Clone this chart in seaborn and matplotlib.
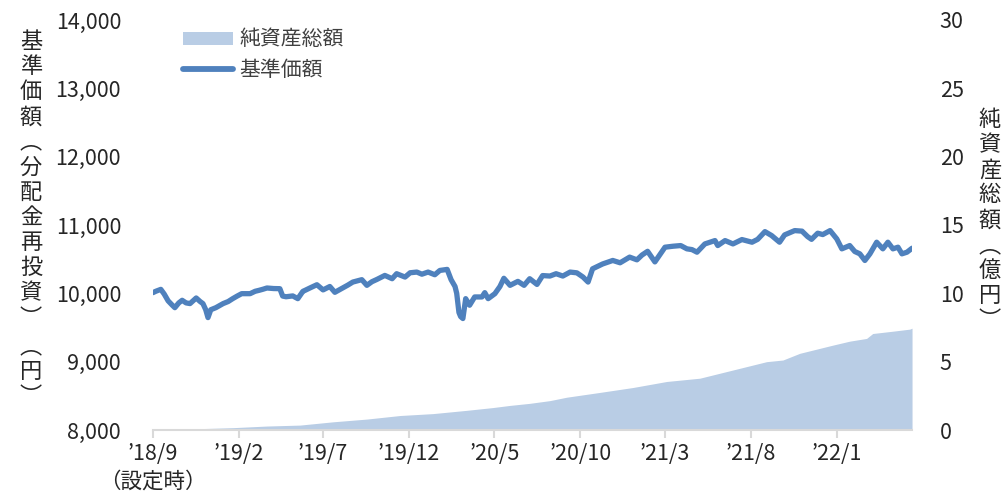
import numpy as np
import pandas as pd
import matplotlib
matplotlib.use("Agg")
import matplotlib.pyplot as plt
import matplotlib.ticker as mticker
from matplotlib.patches import Patch
from matplotlib.lines import Line2D
import seaborn as sns

# ---------------- data ----------------
inception = "2018-09-14"
# days since inception -> NAV (基準価額, 分配金再投資, 円)
nav_days = [0, 5, 14, 20, 27, 34, 39, 46, 52, 59, 66, 77, 84, 89, 94, 98, 103, 112,
            125, 134, 142, 150, 158, 173, 182, 189, 196, 203, 215, 226, 231, 237,
            249, 258, 267, 271, 280, 292, 303, 315, 324, 338, 347, 356, 372, 381,
            390, 399, 413, 426, 434, 449, 458, 470, 479, 490, 502, 511, 524, 531,
            538, 541, 545, 548, 552, 557, 564, 573, 586, 591, 597, 609, 618, 625,
            636, 650, 661, 671, 684, 694, 707, 718, 730, 743, 755, 766, 775, 783,
            801, 819, 832, 849, 862, 871, 881, 894, 912, 926, 940, 951, 960, 969,
            983, 1001, 1006, 1019, 1033, 1049, 1067, 1077, 1090, 1102, 1116, 1125,
            1143, 1156, 1166, 1173, 1184, 1193, 1206, 1218, 1227, 1241, 1250, 1259,
            1268, 1277, 1289, 1300, 1309, 1318, 1327, 1334, 1343, 1352]
nav_values = [10010, 10030, 10058, 9990, 9890, 9830, 9790, 9860, 9898, 9860, 9850,
              9932, 9880, 9850, 9760, 9645, 9760, 9790, 9850, 9880, 9922, 9960,
              9995, 9995, 10030, 10044, 10060, 10078, 10070, 10068, 9960, 9950,
              9962, 9922, 10029, 10044, 10080, 10126, 10050, 10100, 10015, 10078,
              10120, 10165, 10200, 10117, 10170, 10204, 10262, 10214, 10287, 10238,
              10301, 10311, 10280, 10311, 10272, 10335, 10350, 10200, 10100, 10000,
              9720, 9660, 9631, 9922, 9826, 9947, 9947, 10010, 9922, 9995, 10100,
              10220, 10117, 10175, 10117, 10214, 10130, 10260, 10253, 10287, 10253,
              10311, 10300, 10238, 10165, 10359, 10430, 10481, 10447, 10530, 10490,
              10560, 10615, 10460, 10675, 10689, 10699, 10651, 10640, 10602, 10723,
              10772, 10699, 10772, 10723, 10787, 10748, 10790, 10903, 10845, 10748,
              10855, 10918, 10910, 10830, 10790, 10880, 10860, 10918, 10796, 10651,
              10699, 10612, 10578, 10481, 10578, 10748, 10651, 10748, 10651, 10675,
              10578, 10602, 10660]

# days since inception -> net assets (純資産総額, 億円)
aum_days = [0, 84, 142, 203, 262, 321, 381, 440, 499, 559, 605, 636, 671, 707, 737,
            796, 855, 915, 974, 1033, 1093, 1122, 1152, 1211, 1241, 1271, 1282, 1318,
            1348, 1352]
aum_values = [0.05, 0.10, 0.17, 0.29, 0.36, 0.60, 0.80, 1.06, 1.20, 1.44, 1.64, 1.80,
              1.95, 2.15, 2.40, 2.75, 3.11, 3.55, 3.79, 4.39, 5.00, 5.12, 5.61, 6.21,
              6.50, 6.70, 7.06, 7.23, 7.38, 7.45]

x_tick_labels = ["’18/9\n（設定時）", "’19/2", "’19/7", "’19/12", "’20/5", "’20/10",
                 "’21/3", "’21/8", "’22/1"]
left_ticks = [8000, 9000, 10000, 11000, 12000, 13000, 14000]
right_ticks = [0, 5, 10, 15, 20, 25, 30]

# ---------------- build frames ----------------
start = pd.Timestamp(inception)
nav_df = pd.DataFrame({"date": start + pd.to_timedelta(nav_days, unit="D"),
                       "nav": nav_values})
aum_df = pd.DataFrame({"date": start + pd.to_timedelta(aum_days, unit="D"),
                       "aum": aum_values})
tick_dates = [start + pd.DateOffset(months=5 * i) for i in range(len(x_tick_labels))]

# ---------------- style ----------------
sns.set_theme(style="white")
plt.rcParams["font.family"] = ["Noto Sans CJK JP", "DejaVu Sans"]

LINE_C = "#4F81BD"
AREA_C = "#B9CDE5"
TXT_C = "#262626"

fig = plt.figure(figsize=(10.05, 4.97), dpi=100)
ax = fig.add_axes([0.1522, 0.1348, 0.7553, 0.825])
ax2 = ax.twinx()

# area (right axis)
sns.lineplot(data=aum_df, x="date", y="aum", ax=ax2, color=AREA_C, linewidth=0)
ax2.fill_between(aum_df["date"], 0, aum_df["aum"], color=AREA_C, linewidth=0)

# NAV line (left axis), drawn on top
sns.lineplot(data=nav_df, x="date", y="nav", ax=ax, color=LINE_C, linewidth=3.8,
             solid_capstyle="round", solid_joinstyle="round")
ax.set_zorder(ax2.get_zorder() + 1)
ax.patch.set_visible(False)

# limits & ticks
ax.set_xlim(nav_df["date"].iloc[0], nav_df["date"].iloc[-1])
ax.set_ylim(8000, 14000)
ax2.set_ylim(0, 30)
ax.set_yticks(left_ticks)
ax.yaxis.set_major_formatter(mticker.FuncFormatter(lambda v, p: f"{int(v):,}"))
ax2.set_yticks(right_ticks)
ax.set_xticks(tick_dates)
ax.set_xticklabels(x_tick_labels, linespacing=1.35)

for a in (ax, ax2):
    for s in a.spines.values():
        s.set_visible(False)
    a.set_xlabel("")
    a.set_ylabel("")
    a.grid(False)
ax.spines["bottom"].set_visible(True)
ax.spines["bottom"].set_color("#D9D9D9")
ax.spines["bottom"].set_linewidth(1.5)

ax.tick_params(axis="x", which="major", bottom=True, length=6, width=1.5,
               color="#D9D9D9", labelsize=15.5, labelcolor=TXT_C, pad=3)
ax.tick_params(axis="y", left=False, labelsize=15.5, labelcolor=TXT_C, pad=17)
ax2.tick_params(axis="y", right=False, labelsize=15.5, labelcolor=TXT_C, pad=14)
ax2.tick_params(axis="x", bottom=False, labelbottom=False)

# legend
handles = [Patch(facecolor=AREA_C, edgecolor="none", label="純資産総額"),
           Line2D([0], [0], color=LINE_C, linewidth=4.2, solid_capstyle="round",
                  label="基準価額")]
leg = ax.legend(handles=handles, loc="upper left", bbox_to_anchor=(0.015, 1.025),
                frameon=False, fontsize=15, handlelength=2.4, handleheight=0.6,
                labelspacing=0.4, handletextpad=0.3)
for t in leg.get_texts():
    t.set_color("#404040")

# vertical axis titles (stacked upright characters)
def vtext(x, y, s, **kw):
    fig.text(x, y, "\n".join(s), ha="center", va="top", fontsize=16,
             color=TXT_C, linespacing=1.12, **kw)

vtext(31 / 1005, 1 - 30 / 497, "基準価額︵分配金再投資︶")
vtext(31 / 1005, 1 - 335 / 497, "︵円︶")
vtext(990 / 1005, 1 - 108 / 497, "純資産総額︵億円︶")

fig.savefig("out.png", dpi=100)
